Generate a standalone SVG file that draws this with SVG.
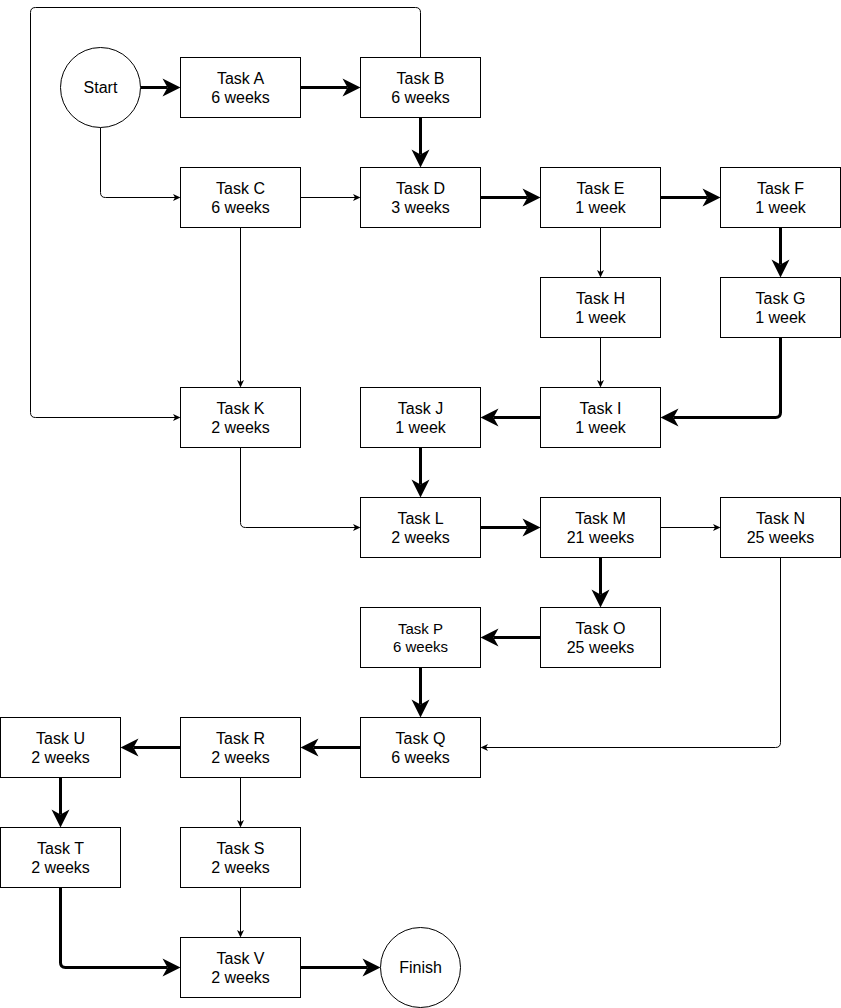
<svg xmlns="http://www.w3.org/2000/svg" width="841" height="1008" viewBox="0 0 841 1008">
<style>
.n rect, .n circle{fill:#fff;stroke:#000;stroke-width:1}
.n text{font-family:"Liberation Sans",Arial,sans-serif;font-size:16px;fill:#000;text-anchor:middle}
.n text.s{font-size:15px}
.thick{fill:none;stroke:#000;stroke-width:3}
.thin{fill:none;stroke:#000;stroke-width:1}
.thick{marker-end:url(#ah3)}
.thin{marker-end:url(#ah1)}
</style>
<defs>
<marker id="ah3" markerUnits="userSpaceOnUse" orient="auto" viewBox="-6 -10 20 20" markerWidth="20" markerHeight="20" refX="0" refY="0" overflow="visible"><path d="M-5,-9 L13,0 L-5,9 L0,0 Z" fill="#000"/></marker>
<marker id="ah1" markerUnits="userSpaceOnUse" orient="auto" viewBox="-3 -5 10 10" markerWidth="10" markerHeight="10" refX="0" refY="0" overflow="visible"><path d="M-2,-3.5 L5.5,0 L-2,3.5 L0,0 Z" fill="#000"/></marker>
</defs>
<g transform="translate(0.5,0.5)">
<g id="connectors">
<path class="thick" d="M140,87 H167"/>
<path class="thick" d="M300,87 H347"/>
<path class="thick" d="M420,117 V154"/>
<path class="thick" d="M480,197 H527"/>
<path class="thick" d="M660,197 H707"/>
<path class="thick" d="M780,227 V264"/>
<path class="thick" d="M780,337 V412 Q780,417 775,417 H673"/>
<path class="thick" d="M540,417 H493"/>
<path class="thick" d="M420,447 V484"/>
<path class="thick" d="M480,527 H527"/>
<path class="thick" d="M600,557 V594"/>
<path class="thick" d="M540,637 H493"/>
<path class="thick" d="M420,667 V704"/>
<path class="thick" d="M360,747 H313"/>
<path class="thick" d="M180,747 H133"/>
<path class="thick" d="M60,777 V814"/>
<path class="thick" d="M60,887 V962 Q60,967 65,967 H167"/>
<path class="thick" d="M300,967 H367"/>
<path class="thin" d="M100,127 V192 Q100,197 105,197 H174.5"/>
<path class="thin" d="M300,197 H354.5"/>
<path class="thin" d="M420,57 V12 Q420,7 415,7 H35 Q30,7 30,12 V412 Q30,417 35,417 H174.5"/>
<path class="thin" d="M240,227 V381.5"/>
<path class="thin" d="M600,227 V271.5"/>
<path class="thin" d="M600,337 V381.5"/>
<path class="thin" d="M240,447 V522 Q240,527 245,527 H354.5"/>
<path class="thin" d="M660,527 H714.5"/>
<path class="thin" d="M780,557 V742 Q780,747 775,747 H485.5"/>
<path class="thin" d="M240,777 V821.5"/>
<path class="thin" d="M240,887 V931.5"/>
</g>
<g id="start" class="n"><circle cx="100" cy="87" r="40"/><text x="100" y="92.5">Start</text></g>
<g id="finish" class="n"><circle cx="420" cy="967" r="40"/><text x="420" y="972.5">Finish</text></g>
<g id="taskA" class="n"><rect x="180" y="57" width="120" height="60"/><text x="240" y="83">Task A</text><text x="240" y="102.5">6 weeks</text></g>
<g id="taskB" class="n"><rect x="360" y="57" width="120" height="60"/><text x="420" y="83">Task B</text><text x="420" y="102.5">6 weeks</text></g>
<g id="taskC" class="n"><rect x="180" y="167" width="120" height="60"/><text x="240" y="193">Task C</text><text x="240" y="212.5">6 weeks</text></g>
<g id="taskD" class="n"><rect x="360" y="167" width="120" height="60"/><text x="420" y="193">Task D</text><text x="420" y="212.5">3 weeks</text></g>
<g id="taskE" class="n"><rect x="540" y="167" width="120" height="60"/><text x="600" y="193">Task E</text><text x="600" y="212.5">1 week</text></g>
<g id="taskF" class="n"><rect x="720" y="167" width="120" height="60"/><text x="780" y="193">Task F</text><text x="780" y="212.5">1 week</text></g>
<g id="taskH" class="n"><rect x="540" y="277" width="120" height="60"/><text x="600" y="303">Task H</text><text x="600" y="322.5">1 week</text></g>
<g id="taskG" class="n"><rect x="720" y="277" width="120" height="60"/><text x="780" y="303">Task G</text><text x="780" y="322.5">1 week</text></g>
<g id="taskK" class="n"><rect x="180" y="387" width="120" height="60"/><text x="240" y="413">Task K</text><text x="240" y="432.5">2 weeks</text></g>
<g id="taskJ" class="n"><rect x="360" y="387" width="120" height="60"/><text x="420" y="413">Task J</text><text x="420" y="432.5">1 week</text></g>
<g id="taskI" class="n"><rect x="540" y="387" width="120" height="60"/><text x="600" y="413">Task I</text><text x="600" y="432.5">1 week</text></g>
<g id="taskL" class="n"><rect x="360" y="497" width="120" height="60"/><text x="420" y="523">Task L</text><text x="420" y="542.5">2 weeks</text></g>
<g id="taskM" class="n"><rect x="540" y="497" width="120" height="60"/><text x="600" y="523">Task M</text><text x="600" y="542.5">21 weeks</text></g>
<g id="taskN" class="n"><rect x="720" y="497" width="120" height="60"/><text x="780" y="523">Task N</text><text x="780" y="542.5">25 weeks</text></g>
<g id="taskP" class="n"><rect x="360" y="607" width="120" height="60"/><text class="s" x="420" y="633.5">Task P</text><text class="s" x="420" y="651.5">6 weeks</text></g>
<g id="taskO" class="n"><rect x="540" y="607" width="120" height="60"/><text x="600" y="633">Task O</text><text x="600" y="652.5">25 weeks</text></g>
<g id="taskU" class="n"><rect x="0" y="717" width="120" height="60"/><text x="60" y="743">Task U</text><text x="60" y="762.5">2 weeks</text></g>
<g id="taskR" class="n"><rect x="180" y="717" width="120" height="60"/><text x="240" y="743">Task R</text><text x="240" y="762.5">2 weeks</text></g>
<g id="taskQ" class="n"><rect x="360" y="717" width="120" height="60"/><text x="420" y="743">Task Q</text><text x="420" y="762.5">6 weeks</text></g>
<g id="taskT" class="n"><rect x="0" y="827" width="120" height="60"/><text x="60" y="853">Task T</text><text x="60" y="872.5">2 weeks</text></g>
<g id="taskS" class="n"><rect x="180" y="827" width="120" height="60"/><text x="240" y="853">Task S</text><text x="240" y="872.5">2 weeks</text></g>
<g id="taskV" class="n"><rect x="180" y="937" width="120" height="60"/><text x="240" y="963">Task V</text><text x="240" y="982.5">2 weeks</text></g>
</g>
</svg>
